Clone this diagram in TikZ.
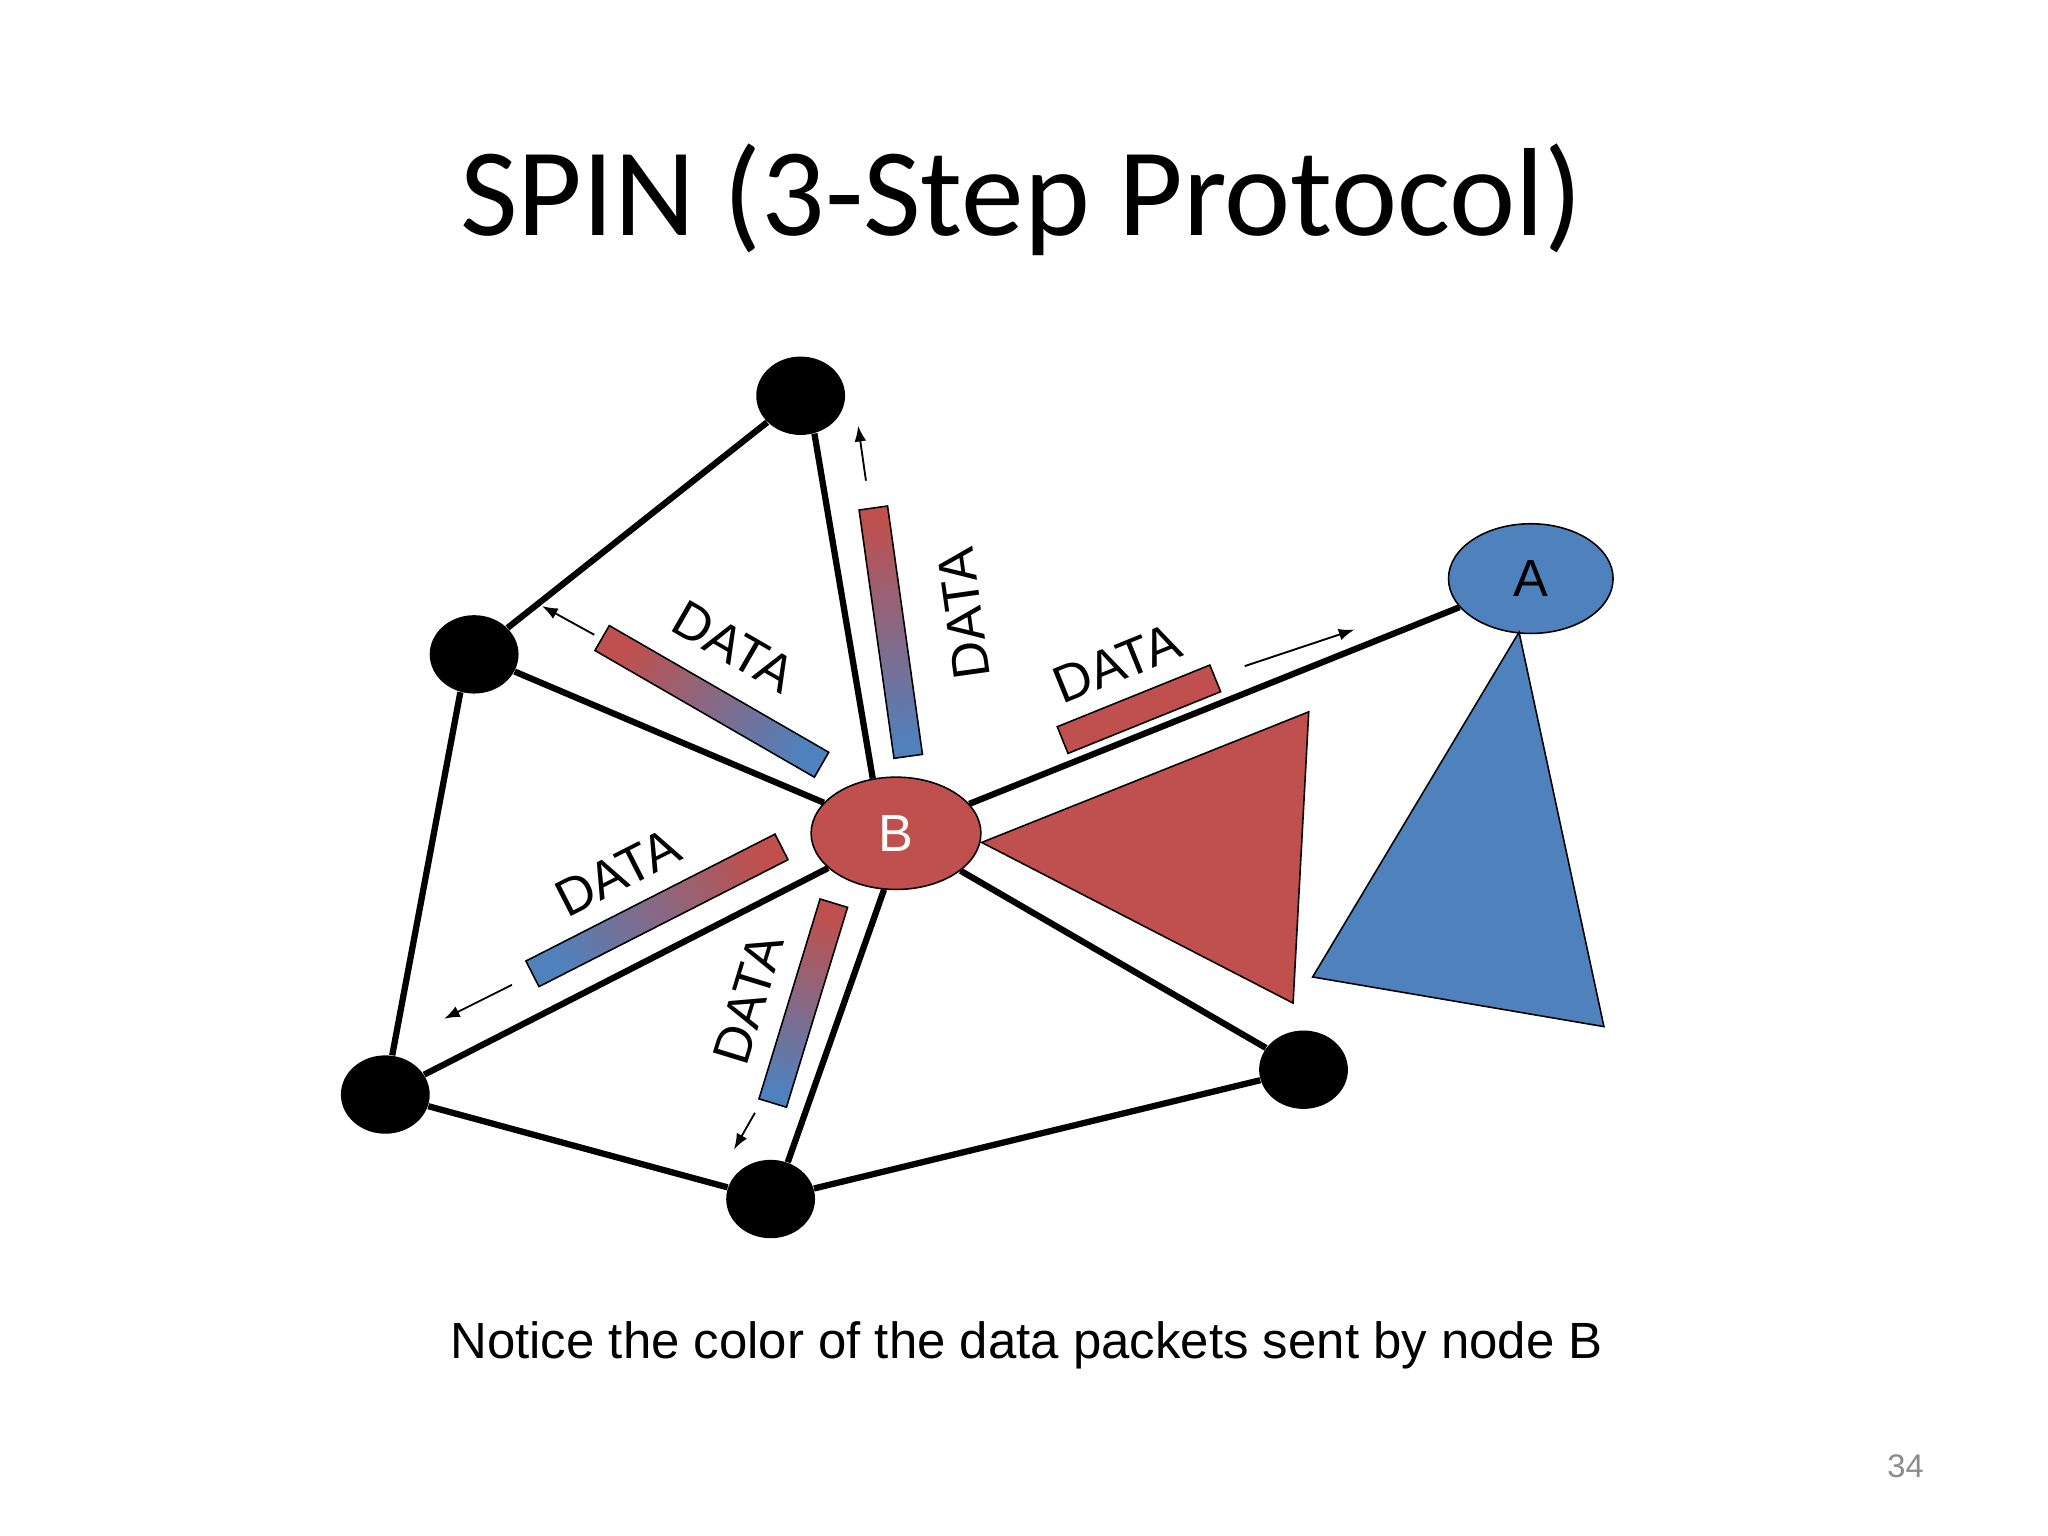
\documentclass[tikz,border=0pt]{standalone}
\usepackage{fontspec}
\setsansfont{Liberation Sans}
\newfontfamily\titlefont{Carlito}
\usetikzlibrary{shapes, arrows, arrows.meta, positioning, calc}
\definecolor{ppred}{HTML}{C0504D}
\definecolor{ppblue}{HTML}{4F81BD}
\definecolor{pngray}{HTML}{8C8C8C}
\tikzstyle{sensor} = [ellipse, fill=black, minimum width=34pt, minimum height=30pt, inner sep=0pt]
\tikzstyle{cluster} = [ellipse, draw, line width=0.6pt, minimum width=65pt, minimum height=43pt, inner sep=0pt, font=\sffamily\fontsize{20}{20}\selectfont]
\tikzstyle{link} = [line width=2.4pt]
\tikzstyle{packet} = [draw, line width=0.6pt, minimum height=11pt, inner sep=0pt]
\tikzstyle{fade} = [packet, top color=ppred, bottom color=ppblue]
\tikzstyle{tag} = [font=\sffamily\fontsize{20}{20}\selectfont, inner sep=0pt]
\tikzstyle{move} = [-{Latex[length=6pt, width=4.5pt]}, line width=0.7pt]

\begin{document}
\begin{tikzpicture}[x=0.5pt, y=-0.5pt]
		\useasboundingbox (0,0) rectangle (1568,1176);
		\fill[white] (0,0) rectangle (1568,1176);

		\coordinate (top)   at (613, 303);
		\coordinate (left)  at (363, 501);
		\coordinate (low)   at (295, 838);
		\coordinate (bot)   at (590, 918);
		\coordinate (right) at (998, 819);
		\coordinate (hubB)  at (686, 638);
		\coordinate (hubA)  at (1172, 443);

		\node[sensor] (N1) at (top) {};
		\node[sensor] (N2) at (left) {};
		\node[sensor] (N3) at (low) {};
		\node[sensor] (N4) at (bot) {};
		\node[sensor] (N5) at (right) {};
		\node[cluster, fill=ppred, text=white] (B) at (hubB) {B};
		\node[cluster, fill=ppblue, minimum width=63pt, minimum height=42pt] (A) at (hubA) {A};

		\draw[link] (N1) -- (N2);
		\draw[link] (N1.290) -- (B.113);
		\draw[link] (N2.250) -- (N3.80);
		\draw[link] (N2) -- (B);
		\draw[link] (N3) -- (B);
		\draw[link] (N3) -- (N4);
		\draw[link] (N4.65) -- (B.258);
		\draw[link] (N4) -- (N5);
		\draw[link] (B) -- (N5);
		\draw[link] (B) -- (A);

		% data triangles
		\coordinate (redtop) at (1002, 545);
		\coordinate (redbot) at (990, 768);
		\coordinate (apex)   at (1163, 484);
		\coordinate (blueL)  at (1005, 748);
		\coordinate (blueR)  at (1228, 786);
		\draw[fill=ppred, line width=0.6pt] ($(B.east)+(0,7)$) -- (redtop) -- (redbot) -- cycle;
		\draw[fill=ppblue, line width=0.6pt] (apex) -- (blueL) -- (blueR) -- cycle;

		\node[fade, minimum width=97pt, rotate=-30, shading angle=60] (P1) at (545, 537) {};
		\node[fade, minimum width=96pt, rotate=98, shading angle=8] (P2) at (682, 484) {};
		\node[packet, minimum width=63pt, rotate=22, fill=ppred] (P3) at (872, 543) {};
		\node[fade, minimum width=107pt, rotate=27, shading angle=-63] (P4) at (503, 697) {};
		\node[fade, minimum width=80pt, rotate=73, shading angle=-17] (P5) at (615, 768) {};

		\node[tag, rotate=-30] (L1) at (562, 495) {DATA};
		\node[tag, rotate=98] (L2) at (738, 470) {DATA};
		\node[tag, rotate=22] (L3) at (855, 508) {DATA};
		\node[tag, rotate=27] (L4) at (473, 668) {DATA};
		\node[tag, rotate=73] (L5) at (573, 765) {DATA};

		\coordinate (m1s) at (455, 486); \coordinate (m1e) at (415, 464);
		\coordinate (m2s) at (663, 368); \coordinate (m2e) at (657, 326);
		\coordinate (m3s) at (953, 510); \coordinate (m3e) at (1037, 482);
		\coordinate (m4s) at (392, 754); \coordinate (m4e) at (340, 780);
		\coordinate (m5s) at (578, 852); \coordinate (m5e) at (562, 880);
		\draw[move] (m1s) -- (m1e);
		\draw[move] (m2s) -- (m2e);
		\draw[move] (m3s) -- (m3e);
		\draw[move] (m4s) -- (m4e);
		\draw[move] (m5s) -- (m5e);

		\node[font=\titlefont\fontsize{48}{48}\selectfont, anchor=base, inner sep=0pt] (title) at (782, 180) {SPIN (3-Step Protocol)};
		\node[font=\sffamily\fontsize{19.5}{20}\selectfont, anchor=base, inner sep=0pt] (note) at (786, 1040) {Notice the color of the data packets sent by node B};
		\node[font=\sffamily\fontsize{12.5}{13}\selectfont, text=pngray, anchor=base, inner sep=0pt] (pnum) at (1459, 1131) {34};
	\end{tikzpicture}
\end{document}
